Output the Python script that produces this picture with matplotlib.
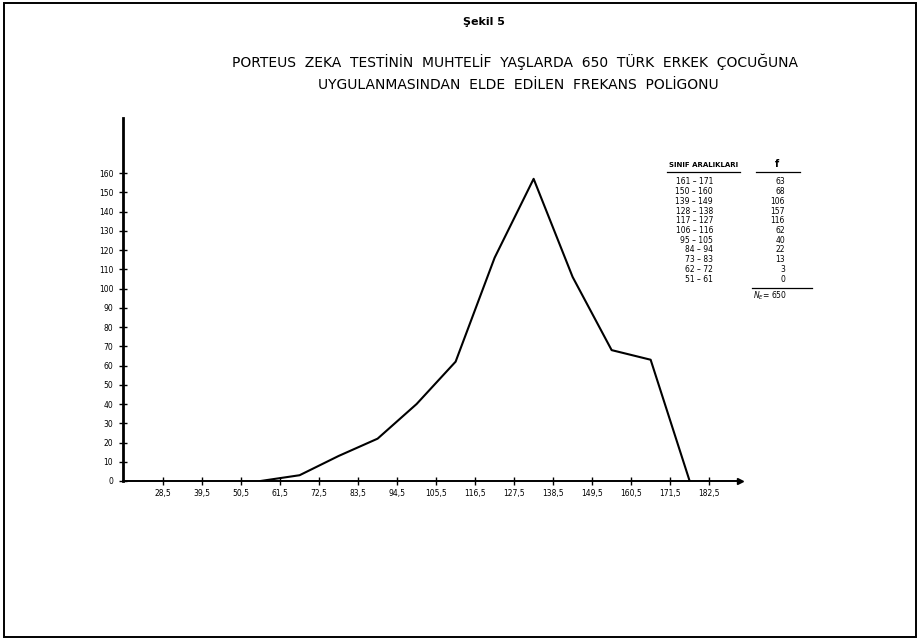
import numpy as np
import matplotlib.pyplot as plt
from matplotlib.patches import Rectangle

# Sınıf aralıkları ve frekanslar (N = 650)
sinif_alt = [161, 150, 139, 128, 117, 106, 95, 84, 73, 62, 51]
sinif_ust = [171, 160, 149, 138, 127, 116, 105, 94, 83, 72, 61]
frekans = [63, 68, 106, 157, 116, 62, 40, 22, 13, 3, 0]

# Poligon noktaları: sınıf orta noktaları, sona eklenen boş sınıf (172-182)
orta_nokta = [56, 67, 78, 89, 100, 111, 122, 133, 144, 155, 166, 177]
poligon_f = [0, 3, 13, 22, 40, 62, 116, 157, 106, 68, 63, 0]

x_ticks = [28.5, 39.5, 50.5, 61.5, 72.5, 83.5, 94.5, 105.5, 116.5,
           127.5, 138.5, 149.5, 160.5, 171.5, 182.5]
x_etiket = [f"{v:.1f}".replace('.', ',') for v in x_ticks]
y_ticks = list(range(0, 161, 10))

W, H = 919, 640
fig = plt.figure(figsize=(W / 100, H / 100), dpi=100)
fig.patch.set_facecolor('white')


def px(x, y):
    return x / W, 1 - y / H


# dış çerçeve
fig.add_artist(Rectangle((4 / W, 3 / H), 912 / W, 634 / H, transform=fig.transFigure,
                         fill=False, lw=1.4, ec='black'))

ax = fig.add_axes([123 / W, 159 / H, 617 / W, 363 / H])
ax.plot(orta_nokta, poligon_f, color='black', lw=1.5)

ax.set_xlim(17.2, 191.2)
ax.set_ylim(0, 188.6)
for s in ['top', 'right']:
    ax.spines[s].set_visible(False)
ax.spines['left'].set_linewidth(2)
ax.spines['bottom'].set_linewidth(1.4)
ax.plot(1, 0, '>', color='black', ms=5, transform=ax.get_yaxis_transform(), clip_on=False)

ax.set_xticks(x_ticks)
ax.set_xticklabels(x_etiket)
ax.set_yticks(y_ticks)
ax.tick_params(axis='both', direction='inout', length=6, width=1, labelsize=5.5)
ax.tick_params(axis='x', pad=3)
ax.tick_params(axis='y', pad=4)

# başlıklar
fig.text(*px(484, 22), "Şekil 5", ha='center', va='center', fontsize=8, fontweight='bold')
fig.text(*px(515, 62), "PORTEUS  ZEKA  TESTİNİN  MUHTELİF  YAŞLARDA  650  TÜRK  ERKEK  ÇOCUĞUNA",
         ha='center', va='center', fontsize=10)
fig.text(*px(518, 85), "UYGULANMASINDAN  ELDE  EDİLEN  FREKANS  POLİGONU",
         ha='center', va='center', fontsize=10)

# frekans tablosu
fig.text(*px(704, 165), "SINIF ARALIKLARI", ha='center', va='center', fontsize=5, fontweight='bold')
fig.text(*px(777, 164), "f", ha='center', va='center', fontsize=7, fontweight='bold')
fig.add_artist(plt.Line2D([667 / W, 740 / W], [1 - 172 / H] * 2, color='black', lw=0.9))
fig.add_artist(plt.Line2D([756 / W, 800 / W], [1 - 172 / H] * 2, color='black', lw=0.9))
for i, (a, b, f) in enumerate(zip(sinif_alt, sinif_ust, frekans)):
    y = 182 + i * 9.7
    fig.text(*px(713, y), f"{a} – {b}", ha='right', va='center', fontsize=5.5)
    fig.text(*px(785, y), str(f), ha='right', va='center', fontsize=5.5)
fig.add_artist(plt.Line2D([752 / W, 812 / W], [1 - 288 / H] * 2, color='black', lw=0.9))
fig.text(*px(753, 296), f"$N_E$= {sum(frekans)}", ha='left', va='center', fontsize=5.5)

fig.savefig('out.png', dpi=100)
